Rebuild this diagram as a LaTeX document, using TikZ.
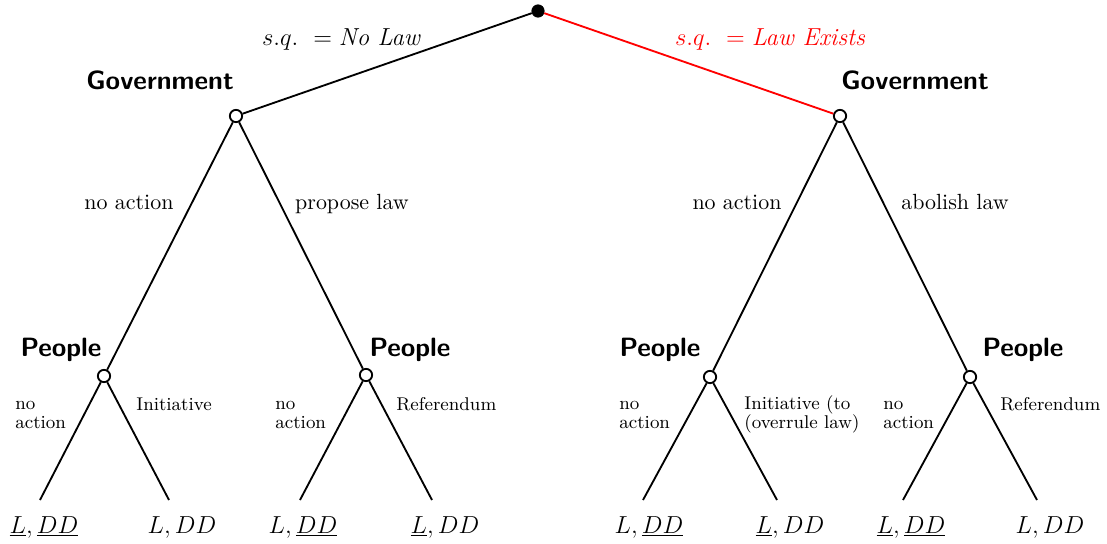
\documentclass[tikz,border=0pt]{standalone}
\usetikzlibrary{positioning}
\begin{document}
\begin{tikzpicture}[x=0.01714cm, y=-0.01714cm,
        decision/.style={draw, circle, line width=0.9pt, fill=white, inner sep=0pt, minimum size=6pt},
        start/.style={draw, circle, fill=black, inner sep=0pt, minimum size=6pt},
        branch/.style={line width=0.9pt},
        player/.style={font=\sffamily\bfseries\fontsize{12.9}{15}\selectfont, anchor=base},
        move/.style={font=\fontsize{10.7}{13}\selectfont, anchor=base},
        status/.style={font=\large, anchor=base},
        smallmove/.style={font=\fontsize{9}{9.2}\selectfont, align=left, anchor=base west, inner sep=0pt},
        payoff/.style={font=\large, anchor=base}]
        \useasboundingbox (0,0) rectangle (1107,543);

        % decision nodes
        \node[start] (root) at (538,11) {};
        \node[decision] (govL) at (236,116) {};
        \node[decision] (govR) at (840,116) {};
        \node[decision] (peoLL) at (104,376) {};
        \node[decision] (peoLR) at (366,375) {};
        \node[decision] (peoRL) at (710,377) {};
        \node[decision] (peoRR) at (970,377) {};

        % leaf ends
        \coordinate (l1) at (40,500);
        \coordinate (l2) at (169,500);
        \coordinate (l3) at (300,500);
        \coordinate (l4) at (432,500);
        \coordinate (l5) at (643,500);
        \coordinate (l6) at (777,500);
        \coordinate (l7) at (903,500);
        \coordinate (l8) at (1037,500);

        \draw[branch] (root) -- (govL);
        \draw[branch, red] (root) -- (govR);
        \draw[branch] (govL) -- (peoLL);
        \draw[branch] (govL) -- (peoLR);
        \draw[branch] (govR) -- (peoRL);
        \draw[branch] (govR) -- (peoRR);
        \draw[branch] (peoLL) -- (l1);
        \draw[branch] (peoLL) -- (l2);
        \draw[branch] (peoLR) -- (l3);
        \draw[branch] (peoLR) -- (l4);
        \draw[branch] (peoRL) -- (l5);
        \draw[branch] (peoRL) -- (l6);
        \draw[branch] (peoRR) -- (l7);
        \draw[branch] (peoRR) -- (l8);

        % players
        \node[player] (nGovL) at (160,89) {Government};
        \node[player] (nGovR) at (915,89) {Government};
        \node[player] (nPeoLL) at (61,356) {People};
        \node[player] (nPeoLR) at (410,356) {People};
        \node[player] (nPeoRL) at (660,356) {People};
        \node[player] (nPeoRR) at (1023,356) {People};

        % moves
        \node[status] (sqL) at (341,45) {$s.q.\ = \textit{No Law}$};
        \node[status, red] (sqR) at (770,45) {$s.q.\ = \textit{Law Exists}$};
        \node[move] (mLL) at (129,209) {no action};
        \node[move] (mLR) at (352,209) {propose law};
        \node[move] (mRL) at (737,209) {no action};
        \node[move] (mRR) at (955,209) {abolish law};
        \node[smallmove] (s1) at (15,428) {no\\action};
        \node[smallmove] (s2) at (136,410) {Initiative};
        \node[smallmove] (s3) at (275,428) {no\\action};
        \node[smallmove] (s4) at (396,410) {Referendum};
        \node[smallmove] (s5) at (619,428) {no\\action};
        \node[smallmove] (s6) at (744,428) {Initiative (to\\(overrule law)};
        \node[smallmove] (s7) at (883,428) {no\\action};
        \node[smallmove] (s8) at (1000,410) {Referendum};

        % payoffs
        \node[payoff] (o1) at (44,533) {$\underline{L}, \underline{DD}$};
        \node[payoff] (o2) at (182,533) {$L, DD$};
        \node[payoff] (o3) at (303,533) {$L, \underline{DD}$};
        \node[payoff] (o4) at (445,533) {$\underline{L}, DD$};
        \node[payoff] (o5) at (649,533) {$L, \underline{DD}$};
        \node[payoff] (o6) at (790,533) {$\underline{L}, DD$};
        \node[payoff] (o7) at (911,533) {$\underline{L}, \underline{DD}$};
        \node[payoff] (o8) at (1050,533) {$L, DD$};
    \end{tikzpicture}
\end{document}
